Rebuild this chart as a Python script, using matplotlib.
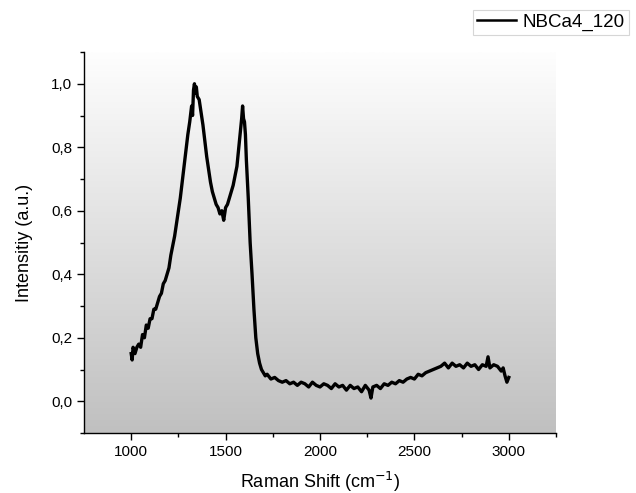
import numpy as np
import matplotlib
matplotlib.use("Agg")
import matplotlib.pyplot as plt
from matplotlib.colors import LinearSegmentedColormap

plt.rcParams['font.family'] = ['Liberation Sans', 'DejaVu Sans']

# Raman shift (cm-1) and normalised intensity
shift = [1000, 1005, 1010, 1020, 1030, 1040, 1050, 1060, 1070, 1080, 1090, 1100,
         1110, 1120, 1130, 1140, 1150, 1160, 1170, 1180, 1190, 1200, 1210, 1220,
         1230, 1240, 1250, 1260, 1270, 1280, 1290, 1300, 1310, 1320, 1325, 1330,
         1335, 1340, 1345, 1350, 1360, 1370, 1380, 1390, 1400, 1410, 1420, 1430,
         1440, 1450, 1460, 1470, 1480, 1490, 1500, 1510, 1520, 1530, 1540, 1550,
         1560, 1570, 1580, 1585, 1590, 1595, 1600, 1605, 1610, 1620, 1630, 1640,
         1650, 1660, 1670, 1680, 1690, 1700, 1710, 1720, 1740, 1760, 1780, 1800,
         1820, 1840, 1860, 1880, 1900, 1920, 1940, 1960, 1980, 2000, 2020, 2040,
         2060, 2080, 2100, 2120, 2140, 2160, 2180, 2200, 2220, 2240, 2260, 2270,
         2280, 2300, 2320, 2340, 2360, 2380, 2400, 2420, 2440, 2460, 2480, 2500,
         2520, 2540, 2560, 2580, 2600, 2620, 2640, 2660, 2680, 2700, 2720, 2740,
         2760, 2780, 2800, 2820, 2840, 2860, 2880, 2890, 2900, 2920, 2940, 2960,
         2970, 2980, 2990, 3000]
intensity = [0.15, 0.13, 0.17, 0.15, 0.17, 0.18, 0.17, 0.21, 0.20, 0.24, 0.23, 0.26,
             0.26, 0.29, 0.29, 0.31, 0.33, 0.34, 0.37, 0.38, 0.40, 0.42, 0.46, 0.49,
             0.52, 0.56, 0.60, 0.64, 0.69, 0.74, 0.79, 0.84, 0.88, 0.93, 0.90, 0.98,
             1.00, 0.97, 0.99, 0.96, 0.95, 0.91, 0.87, 0.82, 0.77, 0.73, 0.69, 0.66,
             0.64, 0.62, 0.61, 0.59, 0.60, 0.57, 0.61, 0.62, 0.64, 0.66, 0.68, 0.71,
             0.74, 0.80, 0.86, 0.89, 0.93, 0.89, 0.88, 0.84, 0.76, 0.64, 0.50, 0.40,
             0.29, 0.20, 0.15, 0.12, 0.10, 0.09, 0.08, 0.085, 0.07, 0.075, 0.065, 0.06,
             0.065, 0.055, 0.06, 0.05, 0.06, 0.055, 0.045, 0.06, 0.05, 0.045, 0.055, 0.05,
             0.04, 0.055, 0.045, 0.05, 0.035, 0.05, 0.04, 0.045, 0.03, 0.05, 0.035, 0.01,
             0.045, 0.05, 0.04, 0.055, 0.05, 0.06, 0.055, 0.065, 0.06, 0.07, 0.075, 0.07,
             0.085, 0.08, 0.09, 0.095, 0.10, 0.105, 0.11, 0.12, 0.105, 0.12, 0.11, 0.115,
             0.105, 0.12, 0.11, 0.115, 0.10, 0.115, 0.11, 0.14, 0.105, 0.115, 0.11, 0.095,
             0.105, 0.08, 0.06, 0.075]
series_name = "NBCa4_120"
x_ticks = [1000, 1500, 2000, 2500, 3000]
y_ticks = [0.0, 0.2, 0.4, 0.6, 0.8, 1.0]

fig = plt.figure(figsize=(6.36, 4.93), dpi=100)
ax = fig.add_axes([84/636, 1 - 433/493, (556 - 84)/636, (433 - 52)/493])

# vertical gradient background
grad = np.linspace(0, 1, 256).reshape(-1, 1)
cmap = LinearSegmentedColormap.from_list("bg", ["#c0c0c0", "#fefefe"])
ax.imshow(grad, aspect='auto', cmap=cmap, extent=[0, 1, 0, 1],
          transform=ax.transAxes, origin='lower', zorder=0)

line, = ax.plot(shift, intensity, color='black', lw=2.4, zorder=2, label=series_name)

ax.set_xlim(750, 3250)
ax.set_ylim(-0.1, 1.1)
ax.set_xticks(x_ticks)
ax.set_xticks([1250, 1750, 2250, 2750, 3250], minor=True)
ax.set_yticks(y_ticks)
ax.set_yticks([-0.1, 0.1, 0.3, 0.5, 0.7, 0.9, 1.1], minor=True)
ax.set_yticklabels([f"{v:.1f}".replace('.', ',') for v in y_ticks])
for s in ['top', 'right']:
    ax.spines[s].set_visible(False)
for s in ['left', 'bottom']:
    ax.spines[s].set_linewidth(1.0)
ax.tick_params(which='major', direction='out', length=5, width=1, labelsize=11, pad=3.5)
ax.tick_params(which='minor', direction='out', length=3, width=1)

ax.set_xlabel("Raman Shift (cm$^{-1}$)", fontsize=13, labelpad=8)
ax.set_ylabel("Intensitiy (a.u.)", fontsize=13)
ax.yaxis.set_label_coords(-0.108, 0.5)

leg = fig.legend(handles=[line], loc='upper left', bbox_to_anchor=(473/636, 1 - 10/493),
                 frameon=True, fancybox=False, fontsize=13.5, handlelength=2.1,
                 borderpad=0.2, handletextpad=0.35, borderaxespad=0)
leg.get_frame().set_edgecolor('#cccccc')
leg.get_frame().set_linewidth(0.8)
leg.get_lines()[0].set_linewidth(1.8)

fig.savefig("out.png", dpi=100, facecolor='white')
